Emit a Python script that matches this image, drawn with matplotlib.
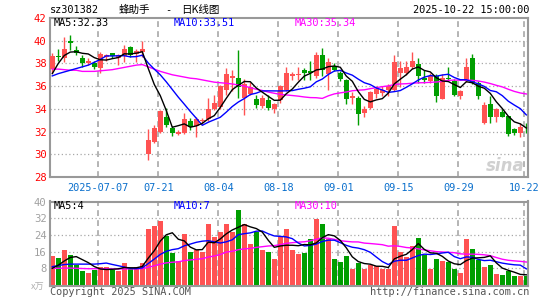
import numpy as np
import pandas as pd
import matplotlib
matplotlib.use("Agg")
import matplotlib.pyplot as plt

# ---------------- data ----------------
all_days = pd.bdate_range("2025-06-25", "2025-10-22")
holidays = pd.to_datetime(["2025-10-01", "2025-10-02", "2025-10-03",
                           "2025-10-06", "2025-10-07", "2025-10-08"])
dates = [d for d in all_days if d not in holidays]

open_ = [37.5, 38.65, 38.44, 40.0, 39.2, 38.5, 38.05, 38.0, 37.6, 38.53,
         38.88, 38.5, 38.67, 39.47, 38.8, 38.97, 30.0, 31.09, 31.97, 33.29,
         32.3, 31.82, 31.9, 32.97, 32.47, 32.9, 33.1, 34.0, 34.15, 35.7,
         36.75, 36.74, 34.94, 35.3, 34.9, 34.24, 34.74, 34.0, 34.74, 35.7,
         36.9, 36.95, 37.44, 37.35, 36.85, 38.73, 37.06, 37.8, 37.15, 36.56,
         35.0, 35.0, 33.6, 34.1, 35.3, 35.4, 35.68, 35.68, 37.2, 37.2,
         37.65, 37.94, 36.76, 36.47, 36.9, 34.9, 36.75, 36.47, 35.1, 36.47,
         38.5, 36.3, 32.74, 34.47, 33.32, 33.68, 33.38, 32.26, 31.9, 32.25]
high = [38.9, 39.26, 40.35, 40.5, 39.5, 38.73, 38.45, 38.25, 39.0, 38.85,
        38.95, 38.8, 39.6, 39.56, 39.26, 39.94, 32.2, 32.56, 33.9, 34.1,
        32.47, 32.1, 33.65, 33.2, 33.26, 33.2, 34.94, 35.2, 36.1, 37.6,
        37.4, 39.15, 36.6, 36.35, 35.2, 35.2, 35.2, 34.53, 36.06, 37.7,
        37.26, 37.65, 37.56, 38.2, 38.97, 39.35, 38.5, 38.0, 37.35, 36.6,
        35.5, 35.15, 34.26, 35.6, 36.0, 36.0, 36.2, 38.73, 38.2, 38.2,
        38.97, 38.5, 37.44, 37.2, 37.06, 37.06, 37.7, 36.6, 35.68, 38.5,
        38.8, 36.47, 34.6, 35.1, 34.1, 34.0, 33.4, 32.35, 32.74, 32.74]
low = [37.15, 38.18, 38.1, 39.18, 38.73, 37.65, 37.9, 37.5, 37.2, 38.2,
       38.45, 37.9, 38.15, 38.53, 38.15, 38.53, 29.5, 31.0, 31.9, 32.4,
       31.6, 31.7, 31.8, 32.1, 31.5, 32.7, 32.97, 33.9, 34.0, 35.2,
       35.6, 34.94, 33.5, 35.2, 34.06, 34.06, 33.94, 33.6, 34.53, 35.6,
       36.5, 36.5, 36.5, 36.5, 36.76, 36.9, 35.7, 37.35, 36.47, 34.47,
       34.4, 32.56, 33.24, 33.97, 35.0, 35.15, 35.15, 35.6, 35.9, 37.0,
       37.5, 36.3, 36.3, 36.3, 34.6, 34.85, 36.47, 35.15, 34.9, 36.4,
       36.2, 34.85, 32.7, 32.74, 32.8, 33.24, 31.6, 31.68, 31.56, 31.9]
close = [38.68, 38.55, 39.26, 39.76, 38.9, 38.0, 38.25, 37.65, 38.82, 38.76,
         38.62, 38.73, 39.3, 38.76, 39.1, 39.26, 31.3, 32.32, 33.82, 32.56,
         31.9, 32.0, 33.1, 32.38, 33.1, 33.05, 34.0, 34.5, 36.0, 37.1,
         36.85, 35.9, 36.2, 35.9, 34.35, 35.0, 34.06, 34.44, 35.97, 37.2,
         37.06, 37.05, 37.15, 37.15, 38.73, 37.44, 38.1, 37.44, 36.6, 34.85,
         35.15, 33.53, 34.03, 35.5, 35.73, 35.7, 35.97, 38.1, 37.56, 37.7,
         38.2, 36.9, 36.56, 36.9, 35.15, 36.76, 36.65, 35.23, 35.6, 37.7,
         36.3, 35.15, 34.32, 33.32, 34.03, 33.32, 31.76, 31.85, 32.44, 32.2]
volume = [14.1, 13.0, 16.8, 14.3, 9.8, 6.9, 5.8, 7.4, 8.5, 8.5,
          7.4, 6.9, 10.6, 7.8, 8.5, 10.6, 26.9, 28.4, 30.8, 23.6,
          15.4, 11.4, 24.4, 16.0, 17.0, 16.0, 29.3, 22.8, 25.2, 29.3,
          25.2, 35.8, 29.3, 19.7, 25.2, 16.8, 16.0, 12.5, 23.0, 26.9,
          16.8, 14.9, 15.4, 22.1, 31.7, 29.3, 22.1, 12.5, 11.2, 13.9,
          7.8, 10.7, 7.8, 9.6, 9.1, 7.5, 7.8, 28.5, 16.0, 13.6,
          18.9, 22.4, 14.4, 7.8, 12.5, 11.5, 11.2, 7.8, 5.9, 22.1,
          17.3, 12.0, 8.8, 9.6, 5.3, 4.8, 6.7, 4.3, 4.3, 4.3]

# moving-average values before a full window exists
ma5_head = [37.1, 38.0, 38.7, 39.0]
ma10_head = [36.9, 37.1, 37.25, 37.4, 37.55, 37.7, 37.85, 38.1, 38.35]
ma30_head = [37.5, 37.5, 37.45, 37.4, 37.4, 37.3, 37.3, 37.3, 37.35, 37.4,
             37.45, 37.55, 37.65, 37.75, 37.85, 37.9, 37.7, 37.5, 37.3, 37.15,
             37.0, 36.9, 36.8, 36.7, 36.65, 36.55, 36.45, 36.35, 36.3]
vma5_head = [8.0, 9.5, 11.5, 13.2]
vma10_head = [8.8, 9.3, 9.8, 10.0, 10.0, 10.0, 10.0, 10.0, 10.2]
vma30_head = [8.0, 8.0, 8.1, 8.1, 8.0, 7.9, 7.8, 7.8, 7.8, 7.8,
              7.7, 7.7, 7.7, 7.7, 7.7, 7.8, 8.5, 9.2, 10.0, 10.6,
              10.9, 11.1, 11.7, 12.0, 12.3, 12.6, 13.4, 13.9, 14.6]

tick_dates = ["2025-07-07", "2025-07-21", "2025-08-04", "2025-08-18",
              "2025-09-01", "2025-09-15", "2025-09-29", "2025-10-22"]
tick_labels = ["2025-07-07", "07-21", "08-04", "08-18", "09-01", "09-15",
               "09-29", "10-22"]
price_ticks = [28, 30, 32, 34, 36, 38, 40, 42]
vol_ticks = [8, 16, 24, 32, 40]

code = "sz301382"
name = "蜂助手"
chart_kind = "日K线图"
stamp = "2025-10-22 15:00:00"
price_ma_labels = ["MA5:32.33", "MA10:33.51", "MA30:35.34"]
vol_ma_labels = ["MA5:4", "MA10:7", "MA30:10"]


def ma(values, n, head):
    s = pd.Series(values).rolling(n).mean().to_numpy()
    s[:len(head)] = head
    return s


# ---------------- drawing ----------------
W, H = 545, 300
fig = plt.figure(figsize=(W / 100, H / 100), dpi=100)
fig.patch.set_facecolor("white")
MONO = "DejaVu Sans Mono"
CJK = ["Noto Sans CJK SC", "DejaVu Sans"]
RED = "#ff5252"
GREEN = "#009e00"
GRID = "#a8a8a8"
BORDER = "#999999"


def fx(px):
    return px / W


def fy(py):
    return 1 - py / H


L, R = 50, 528
ax1 = fig.add_axes([fx(L), fy(177), fx(R - L), (177 - 18) / H])
ax2 = fig.add_axes([fx(L), fy(286), fx(R - L), (286 - 201.5) / H])

n = len(close)
x = np.arange(n)
o = np.array(open_)
c = np.array(close)
hi = np.array(high)
lo = np.array(low)
v = np.array(volume)
up = c >= o
cols = np.where(up, RED, GREEN)

xmin, xmax = -0.38, 79.28
date_idx = {d.strftime("%Y-%m-%d"): i for i, d in enumerate(dates)}
tick_pos = [date_idx[d] - 0.35 for d in tick_dates]

for ax in (ax1, ax2):
    ax.set_xlim(xmin, xmax)
    for s in ax.spines.values():
        s.set_color(BORDER)
        s.set_linewidth(1.5)
    for p in tick_pos:
        ax.axvline(p, color=GRID, lw=1.2, ls=(0, (3.5, 2.5)), zorder=0)
    ax.tick_params(length=0)

# price panel
ax1.set_ylim(28, 42)
for yv in price_ticks[1:-1]:
    ax1.axhline(yv, color=GRID, lw=0.9, ls=(0, (1, 2)), zorder=0)
ax1.vlines(x, lo, hi, colors=cols, lw=1.0, zorder=2)
body_h = np.maximum(np.abs(c - o), 0.07)
ax1.bar(x, body_h, bottom=np.minimum(o, c), width=0.8, color=cols,
        linewidth=0, zorder=3)
ax1.plot(x, ma(close, 30, ma30_head), color="#ff00ff", lw=1.0, zorder=4)
ax1.plot(x, ma(close, 10, ma10_head), color="#0000ff", lw=1.0, zorder=4)
ax1.plot(x, ma(close, 5, ma5_head), color="#000000", lw=1.0, zorder=5)
ax1.set_yticks(price_ticks)
ax1.set_yticklabels([str(t) for t in price_ticks], color="#ff0000",
                    fontsize=7.6, family=MONO)
ax1.tick_params(axis="y", pad=2.5)
ax1.set_xticks(tick_pos)
ax1.set_xticklabels(tick_labels, color="#0a6fcc", fontsize=7.4, family=MONO)
ax1.tick_params(axis="x", pad=4)

# volume panel
ax2.set_ylim(-0.48, 40)
for yv in vol_ticks[:-1]:
    ax2.axhline(yv, color=GRID, lw=0.9, ls=(0, (1, 2)), zorder=0)
ax2.bar(x, v, width=0.8, color=cols, linewidth=0, zorder=2)
ax2.plot(x, ma(volume, 30, vma30_head), color="#ff00ff", lw=1.0, zorder=4)
ax2.plot(x, ma(volume, 10, vma10_head), color="#0000ff", lw=1.0, zorder=4)
ax2.plot(x, ma(volume, 5, vma5_head), color="#000000", lw=1.0, zorder=5)
ax2.set_yticks(vol_ticks)
ax2.set_yticklabels([str(t) for t in vol_ticks], color="#a0a0a0",
                    fontsize=7.6, family=MONO)
ax2.tick_params(axis="y", pad=2.5)
ax2.set_xticks([])

# texts
fig.text(fx(50), fy(10), code, fontsize=7.4, family=MONO, va="center", ha="left")
fig.text(fx(119), fy(10), name, fontsize=7.6, family=CJK, va="center", ha="left")
fig.text(fx(168), fy(10), "-", fontsize=7.4, family=MONO, va="center", ha="center")
fig.text(fx(181), fy(10), chart_kind, fontsize=7.6, family=CJK, va="center", ha="left")
fig.text(fx(529), fy(10), stamp, fontsize=7.4, family=MONO, va="center", ha="right")

ma_cols = ["#000000", "#0000ff", "#ff00ff"]
ma_x = [54, 174, 295]
for lab, col, xx in zip(price_ma_labels, ma_cols, ma_x):
    fig.text(fx(xx), fy(23.5), lab, color=col, fontsize=7.4, family=MONO,
             va="center", ha="left")
for lab, col, xx in zip(vol_ma_labels, ma_cols, ma_x):
    fig.text(fx(xx), fy(206), lab, color=col, fontsize=7.4, family=MONO,
             va="center", ha="left")

fig.text(fx(44), fy(286), "x万", color="#b0b0b0", fontsize=6.6, family=CJK,
         va="center", ha="right")
fig.text(fx(50), fy(292), "Copyright 2025 SINA.COM", color="#555555",
         fontsize=7.4, family=MONO, va="center", ha="left")
fig.text(fx(529), fy(292), "http://finance.sina.com.cn", color="#555555",
         fontsize=7.4, family=MONO, va="center", ha="right")
fig.text(fx(505), fy(166), "sina", color="#d0d0d0", fontsize=12,
         fontweight="bold", style="italic", va="center", ha="center", zorder=1)

fig.savefig("out.png", dpi=100)
